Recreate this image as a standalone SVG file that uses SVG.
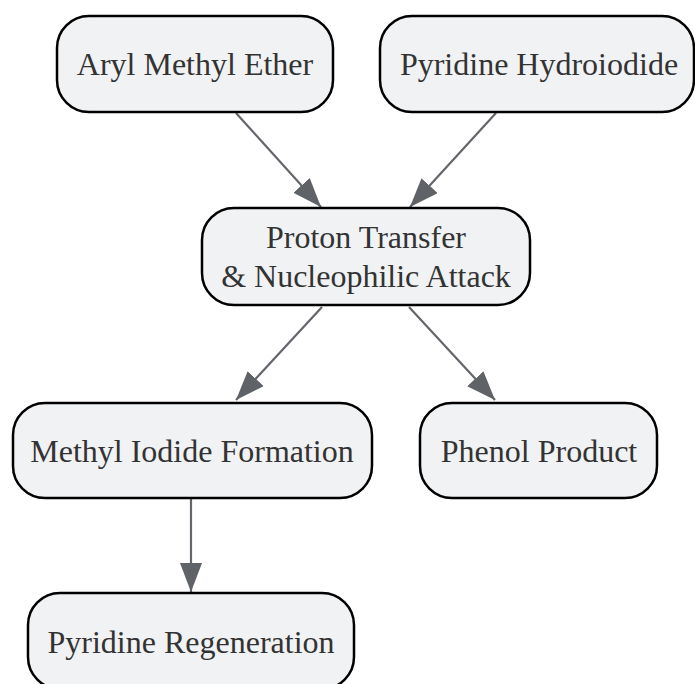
<svg xmlns="http://www.w3.org/2000/svg" width="695" height="684" viewBox="0 0 695 684">
<defs>
<style>
.node rect{fill:#f1f2f4;stroke:#000;stroke-width:2.5}
.node text{font-family:"Liberation Serif","Times New Roman",serif;font-size:32px;fill:#333;text-anchor:middle}
.edges line{stroke:#63666a;stroke-width:2.2;fill:none}
</style>
<marker id="arr" markerUnits="userSpaceOnUse" markerWidth="30" markerHeight="24" refX="29" refY="11" orient="auto">
<path d="M0,0 L29,11 L0,22 z" fill="#5f6266"/>
</marker>
</defs>
<rect width="695" height="684" fill="#fff"/>
<g id="edges" class="edges">
<line x1="236" y1="113" x2="321" y2="207" marker-end="url(#arr)"/>
<line x1="496" y1="113" x2="410" y2="207" marker-end="url(#arr)"/>
<line x1="322" y1="307" x2="236" y2="400" marker-end="url(#arr)"/>
<line x1="409" y1="307" x2="495" y2="400" marker-end="url(#arr)"/>
<line x1="191" y1="499" x2="191" y2="592" marker-end="url(#arr)"/>
</g>
<g id="aryl" class="node">
<rect x="57" y="16" width="276" height="96" rx="32"/>
<text x="195" y="75">Aryl Methyl Ether</text>
</g>
<g id="pyhi" class="node">
<rect x="380" y="16" width="314" height="96" rx="32"/>
<text x="539" y="75">Pyridine Hydroiodide</text>
</g>
<g id="proton" class="node">
<rect x="202" y="208" width="328" height="97" rx="32"/>
<text x="366" y="248">Proton Transfer</text>
<text x="366" y="287">&amp; Nucleophilic Attack</text>
</g>
<g id="meI" class="node">
<rect x="13" y="403" width="359" height="95" rx="32"/>
<text x="192" y="462">Methyl Iodide Formation</text>
</g>
<g id="phenol" class="node">
<rect x="420" y="403" width="237" height="95" rx="32"/>
<text x="539" y="462">Phenol Product</text>
</g>
<g id="pyregen" class="node">
<rect x="28" y="593" width="326" height="96" rx="32"/>
<text x="191" y="653">Pyridine Regeneration</text>
</g>
</svg>
